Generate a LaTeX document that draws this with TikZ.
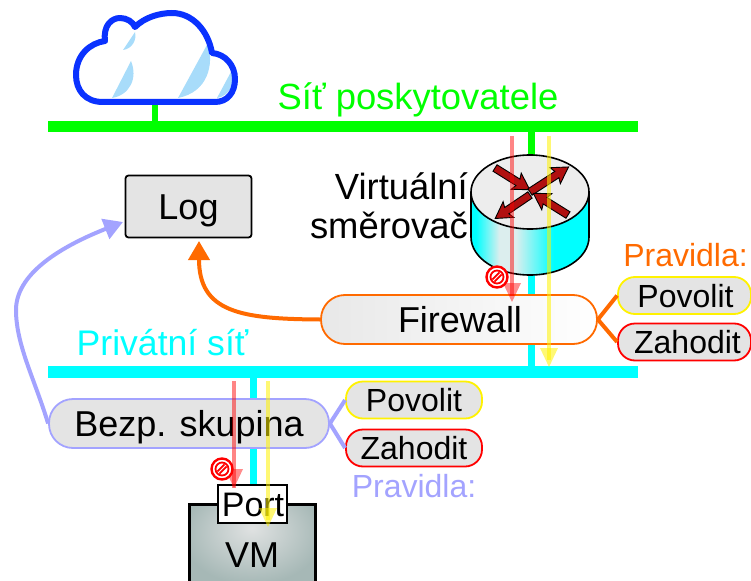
\documentclass[tikz,border=0pt]{standalone}
\usepackage{fontspec}
\setmainfont{Liberation Sans}
\usetikzlibrary{arrows.meta,calc}
\definecolor{netgreen}{HTML}{00FF00}
\definecolor{netcyan}{HTML}{00FFFF}
\definecolor{fworange}{HTML}{FF6A00}
\definecolor{lav}{HTML}{A3A3FF}
\definecolor{cloudblue}{HTML}{0A32FF}
\definecolor{cloudlight}{HTML}{A8DCFA}
\definecolor{boxgrey}{HTML}{E4E4E4}
\definecolor{darkred}{HTML}{B01010}
\definecolor{palecyl}{HTML}{DCEEEE}
\definecolor{vmin}{HTML}{E0E2E2}
\definecolor{vmout}{HTML}{A6B8B6}
\pgfdeclarehorizontalshading{cylshade}{100bp}{color(0bp)=(netcyan); color(27bp)=(netcyan); color(37bp)=(palecyl); color(44bp)=(palecyl); color(60bp)=(netcyan); color(100bp)=(netcyan)}
\pgfdeclareradialshading{vmshade}{\pgfpoint{0bp}{12bp}}{color(0bp)=(vmin); color(28bp)=(vmout); color(100bp)=(vmout)}
\newcommand{\fs}[1]{\fontsize{#1}{#1}\selectfont}
\tikzset{
  x=1pt,y=-1pt,
  lbl/.style={anchor=base,inner sep=0pt},
  pill/.style={draw,rounded corners=17pt,inner sep=0pt,fill=boxgrey,line width=1.8pt,text=black},
  rulebox/.style={pill,minimum width=133pt,minimum height=37pt,font=\fs{32}},
  rulesmall/.style={pill,minimum width=136pt,minimum height=37pt,font=\fs{32}},
  allow/.style={draw=yellow},
  drop/.style={draw=red},
  busgreen/.style={line width=11pt,netgreen},
  buscyan/.style={line width=12pt,netcyan},
  redflow/.style={line width=3.6pt,red,opacity=.48},
  yelflow/.style={line width=3.6pt,yellow,opacity=.55},
  rtarrow/.style={draw=black,line width=.9pt,fill=darkred},
}
\newcommand{\flowhead}[3]{\fill[#3,fill opacity=#2] (#1)+(-9,-19) -- (#1) -- +(9,-19) -- cycle;}
\newcommand{\rtr}[4]{\begin{scope}[shift={(#1,#2)},rotate=#3]
  \draw[rtarrow] (0,-3.8) -- (#4-14,-3.8) -- (#4-16,-9.5) -- (#4,0) -- (#4-16,9.5) -- (#4-14,3.8) -- (0,3.8) -- cycle;
\end{scope}}
\newcommand{\nogo}[2]{\begin{scope}[shift={(#1,#2)}]
  \draw[red,line width=2.4pt,fill=white] (0,0) circle (10.5);
  \draw[red,line width=1.8pt] (0,0) circle (6.5);
  \draw[red,line width=1.8pt] (-4.6,2.5) -- (2.5,-4.6) (-2.5,4.6) -- (4.6,-2.5);
\end{scope}}
\begin{document}
\begin{tikzpicture}
\useasboundingbox (0,0) rectangle (751,580);
\coordinate (cloudfoot) at (155,102);
\coordinate (pubstem) at (155,127);
\coordinate (rtop) at (531,132);
\coordinate (rmid) at (531,200);
\coordinate (rbot) at (531,366);
\coordinate (vmtop) at (253,372);
\coordinate (vmport) at (253,490);
\coordinate (busAl) at (48,126.5);
\coordinate (busAr) at (638,126.5);
\coordinate (busBl) at (48,372);
\coordinate (busBr) at (638,372);
\draw[netgreen,line width=6pt] (cloudfoot) -- (pubstem);
\draw[netgreen,line width=7pt] (rtop) -- (rmid);
\draw[netcyan,line width=7pt] (rmid) -- (rbot);
\draw[netcyan,line width=7pt] (vmtop) -- (vmport);
\draw[busgreen] (busAl) -- (busAr);
\draw[buscyan] (busBl) -- (busBr);
% cloud
\fill[cloudlight] (123,50) -- (135,32) .. controls (137,40) and (132,49) .. (123,50) -- cycle;
\fill[cloudlight] (112,98) -- (131,61) .. controls (138,78) and (130,95) .. (112,98) -- cycle;
\fill[cloudlight] (178,98) -- (208,43) .. controls (214,65) and (208,92) .. (178,98) -- cycle;
\fill[cloudlight] (217,98) -- (232,70) .. controls (236,82) and (230,96) .. (217,98) -- cycle;
\draw[cloudblue,line width=6pt,line join=round]
  (215,102) -- (103,102)
  .. controls (85,102) and (76,90) .. (76,75)
  .. controls (76,55) and (90,43) .. (105,41)
  .. controls (103,25) and (112,18) .. (120,18)
  .. controls (127,18) and (133,22) .. (135,27)
  .. controls (145,17) and (160,13) .. (172,13)
  .. controls (192,13) and (208,30) .. (212,53)
  .. controls (225,54) and (235,65) .. (235,79)
  .. controls (235,93) and (227,102) .. (215,102) -- cycle;
\node[lbl,netgreen,font=\fs{36.4}] (pubname) at (418,110) {Síť poskytovatele};
% log
\node[draw,line width=1.8pt,rounded corners=3pt,fill=boxgrey,minimum width=126pt,minimum height=62pt,inner sep=0pt] (log) at (188.5,206.5) {};
\node[lbl,font=\fs{36}] (logname) at (188.5,219) {Log};
% router
\shade[shading=cylshade] (471,192) -- (471,237) .. controls (471,258) and (497,275) .. (530,275) .. controls (563,275) and (589,258) .. (589,237) -- (589,192) -- cycle;
\draw[line width=1.6pt] (471,192) -- (471,237) .. controls (471,258) and (497,275) .. (530,275) .. controls (563,275) and (589,258) .. (589,237) -- (589,192);
\filldraw[fill=black!7,draw=black,line width=1.6pt] (530,192) ellipse [x radius=59,y radius=37];
\rtr{495}{168}{-32}{41}
\rtr{530}{192}{33}{46}
\rtr{568}{215}{148}{41}
\rtr{530}{195}{214}{42}
\node[lbl,font=\fs{36.4},anchor=base east] (vname1) at (468,199) {Virtuální};
\node[lbl,font=\fs{36.4},anchor=base east] (vname2) at (468,238) {směrovač};
% firewall and rules
\node[lbl,netcyan,font=\fs{35.6}] (privname) at (162.5,355) {Privátní síť};
\node[pill,draw=fworange,left color=boxgrey!85!white,right color=white,minimum width=276pt,minimum height=49pt,rounded corners=24pt] (fw) at (459,319.5) {};
\node[lbl,font=\fs{36}] (fwname) at (460,332) {Firewall};
\node[lbl,text=fworange,font=\fs{32}] (fwrules) at (685.5,266) {Pravidla:};
\node[rulebox,allow] (fwok) at (684.5,295.5) {};
\node[lbl,font=\fs{32}] (fwoktxt) at (685.5,307) {Povolit};
\node[rulebox,drop] (fwno) at (684.5,342) {};
\node[lbl,font=\fs{32}] (fwnotxt) at (687.5,353) {Zahodit};
\draw[fworange,line width=4pt] (fw.east) -- (fwok.west);
\draw[fworange,line width=4pt] (fw.east) -- (fwno.west);
% security group
\node[pill,draw=lav,minimum width=280pt,minimum height=49pt,rounded corners=24pt] (sg) at (189,423.5) {};
\node[lbl,font=\fs{36}] (sgname) at (189,436) {Bezp. skupina};
\node[rulesmall,allow] (sgok) at (414,400) {};
\node[lbl,font=\fs{32}] (sgoktxt) at (414,411) {Povolit};
\node[rulesmall,drop] (sgno) at (414,448) {};
\node[lbl,font=\fs{32}] (sgnotxt) at (414,459) {Zahodit};
\draw[lav,line width=4pt] (sg.east) -- (sgok.west);
\draw[lav,line width=4pt] (sg.east) -- (sgno.west);
\node[lbl,text=lav,font=\fs{32}] (sgrules) at (414,497) {Pravidla:};
% log arrows
\coordinate (logfoot) at (199,241);
\coordinate (logside) at (123,222);
\coordinate (lavbend) at (16,310);
\draw[fworange,line width=4pt,-{Stealth[inset=0pt,length=19pt,width=21pt]}] (fw.west) .. controls (240,319) and (199,312) .. (logfoot);
\draw[lav,line width=4pt,-{Stealth[inset=0pt,length=19pt,width=21pt]}] (sg.west) .. controls (35,380) and (16,345) .. (lavbend) .. controls (16,270) and (70,243) .. (logside);
% VM
\node[draw,line width=3pt,shading=vmshade,minimum width=126pt,minimum height=90pt,inner sep=0pt,anchor=north] (vm) at (252,503) {};
\node[font=\fs{36},lbl] (vmname) at (252,567) {VM};
\node[draw,line width=2pt,fill=white,minimum width=69pt,minimum height=38pt,inner sep=0pt] (port) at (252,504) {};
\node[lbl,font=\fs{34}] (porttxt) at (253,516) {Port};
% flows
\coordinate (r1a) at (512,136); \coordinate (r1b) at (512,302);
\coordinate (y1a) at (549,136); \coordinate (y1b) at (549,367);
\coordinate (r2a) at (234,381); \coordinate (r2b) at (234,488);
\coordinate (y2a) at (268,381); \coordinate (y2b) at (268,527);
\draw[redflow] (r1a) -- (r1b |- 0,296);
\flowhead{r1b}{.45}{red}
\draw[yelflow] (y1a) -- (y1b |- 0,360);
\flowhead{y1b}{.55}{yellow}
\draw[redflow] (r2a) -- (r2b);
\flowhead{r2b}{.45}{red}
\draw[yelflow] (y2a) -- (y2b |- 0,520);
\flowhead{y2b}{.55}{yellow}
\nogo{497}{277}
\nogo{222}{469}
\end{tikzpicture}
\end{document}
